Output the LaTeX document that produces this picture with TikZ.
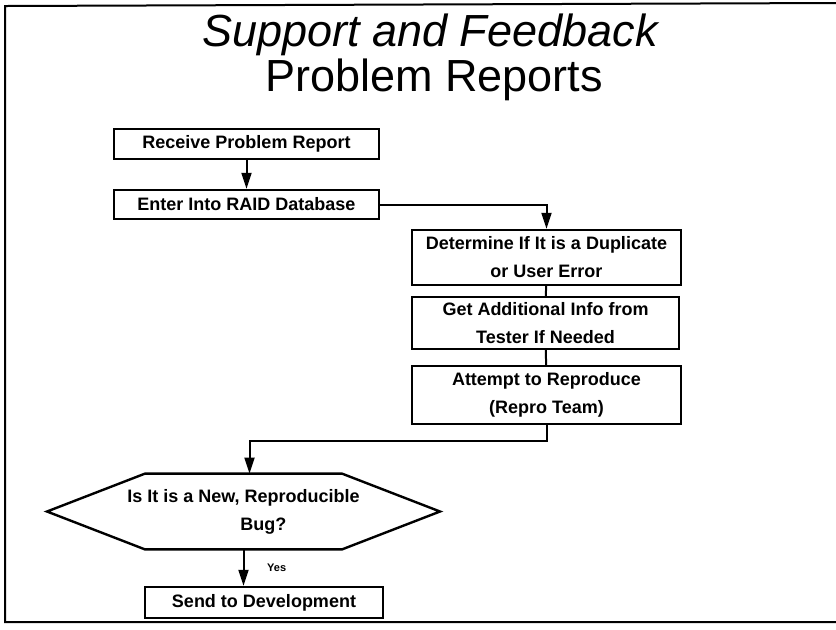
\documentclass[tikz,border=0pt]{standalone}
\usepackage{fontspec}
\setmainfont{Liberation Sans}
\usetikzlibrary{positioning,arrows.meta,calc}

\tikzset{
    stepbox/.style={draw, line width=1.2pt, align=center, font=\boxfont,
        inner sep=1pt},
    decision/.style={minimum height=37.5pt, align=center, font=\boxfont,
        inner sep=1pt},
    arr/.style={line width=1pt, -{Triangle[length=8pt,width=5pt]}},
    link/.style={line width=1pt}
}
\newcommand{\boxfont}{\bfseries\fontsize{9}{14}\selectfont}

\begin{document}
\begin{tikzpicture}[x=0.5pt, y=-0.5pt]
    \useasboundingbox (0,0) rectangle (836,629);

    % frame of the slide
    \draw[line width=1pt] (836,3) -- (5,6) -- (5,622) -- (836,622);

    % title
    \node (title1) at (430,35) {\fontsize{22.5}{26}\selectfont\itshape Support and Feedback};
    \node (title2) at (434,80) {\fontsize{22.5}{26}\selectfont Problem Reports};

    % boxes on the left
    \node[stepbox, minimum width=132.5pt, minimum height=15pt] (receive) at (246.5,144) {Receive Problem Report};
    \node[stepbox, minimum width=132.5pt, minimum height=14.5pt] (enter) at (246.5,204.5) {Enter Into RAID Database};

    % boxes on the right
    \node[stepbox, minimum width=134.5pt, minimum height=27.5pt] (dup) at (546.5,257.5) {Determine If It is a Duplicate\\or User Error};
    \node[stepbox, minimum width=133.5pt, minimum height=26pt] (info) at (545.5,323) {Get Additional Info from\\Tester If Needed};
    \node[stepbox, minimum width=134.5pt, minimum height=29pt] (repro) at (546.5,395) {Attempt to Reproduce\\(Repro Team)};

    % decision (hexagon) and last step
    \node[decision] (bug) at (243.5,511.5) {Is It is a New, Reproducible\\\hspace*{2.2em}Bug?};
    \draw[line width=1.2pt] ($(bug.north)+(-98.5,0)$) -- ($(bug)+(-196.5,0)$) -- ($(bug.south)+(-98.5,0)$)
        -- ($(bug.south)+(98.5,0)$) -- ($(bug)+(196.5,0)$) -- ($(bug.north)+(98.5,0)$) -- cycle;
    \node[stepbox, minimum width=119pt, minimum height=15.5pt] (dev) at (264,602.5) {Send to Development};

    % connectors
    \draw[arr] (receive) -- (enter);
    \draw[arr] (enter.east) -| (dup.north);
    \draw[link] (dup) -- (info);
    \draw[link] (info) -- (repro);
    \draw[arr] (repro.south) -- ++(0,16) -| ([xshift=3pt]bug.north);
    \draw[arr] (bug.south) -- (bug.south |- dev.north)
        node[midway, right=8pt, font=\bfseries\fontsize{5.5}{6}\selectfont] (yes) {Yes};

\end{tikzpicture}
\end{document}
